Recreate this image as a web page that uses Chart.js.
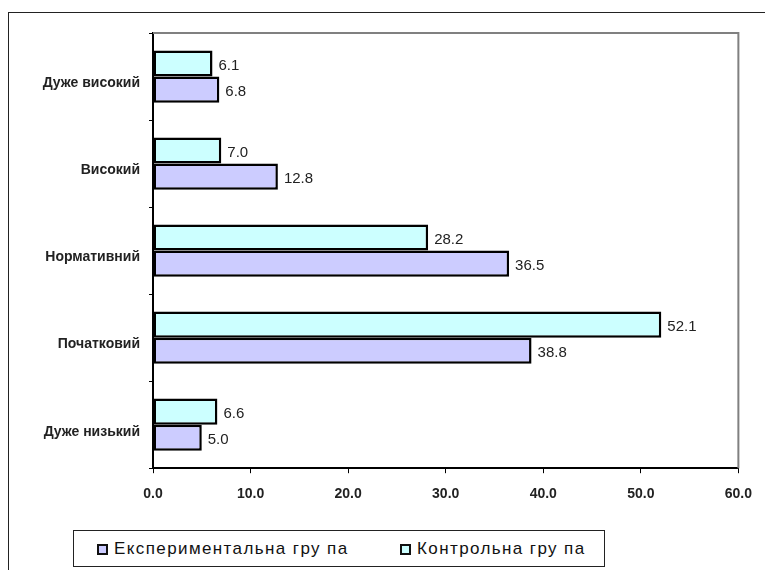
<!DOCTYPE html>
<html>
<head>
<meta charset="utf-8">
<script src="https://cdn.jsdelivr.net/npm/chart.js@4"></script>
<style>
  body { margin: 0; background: #fff; font-family: "Liberation Sans", Arial, sans-serif; }
  #wrap { position: relative; width: 765px; height: 570px; overflow: hidden; }
  #frame { position: absolute; left: 8px; top: 12px; width: 800px; height: 600px; border: 1.5px solid #222; box-sizing: border-box; }
  #chart { position: absolute; left: 0; top: 0; }
  #legend { position: absolute; left: 73px; top: 530px; width: 532px; height: 37px; border: 1.5px solid #222; box-sizing: border-box; background: #fff;
            font-size: 17px; letter-spacing: 1.4px; color: #111; }
  .item { display: flex; align-items: center; position: absolute; top: 8px; }
  .box { width: 7px; height: 7px; border: 2px solid #111; margin-right: 6px; }
</style>
</head>
<body>
<div id="wrap">
  <div id="frame"></div>
  <canvas id="chart" width="765" height="570"></canvas>
  <div id="legend">
    <div class="item" style="left:23px"><span class="box" style="background:#ccccff"></span>Експериментальна гру па</div>
    <div class="item" style="left:326px"><span class="box" style="background:#ccffff"></span>Контрольна гру па</div>
  </div>
</div>
<script>
// --- data ---
const categories = ["Дуже високий", "Високий", "Нормативний", "Початковий", "Дуже низький"];
const experimental = [6.8, 12.8, 36.5, 38.8, 5.0];
const control = [6.1, 7.0, 28.2, 52.1, 6.6];
const xTicks = [0, 10, 20, 30, 40, 50, 60];

// value labels right of each bar
const valueLabels = {
  id: "valueLabels",
  afterDatasetsDraw(chart) {
    const ctx = chart.ctx;
    ctx.save();
    ctx.font = "15px 'Liberation Sans', Arial, sans-serif";
    ctx.fillStyle = "#222";
    ctx.textBaseline = "middle";
    chart.data.datasets.forEach((ds, i) => {
      chart.getDatasetMeta(i).data.forEach((bar, j) => {
        ctx.fillText(ds.data[j].toFixed(1), bar.x + 6, bar.y + 2);
      });
    });
    ctx.restore();
  }
};

// grey top and right border of the plot area
const plotBorder = {
  id: "plotBorder",
  beforeDatasetsDraw(chart) {
    const a = chart.chartArea, ctx = chart.ctx;
    ctx.save();
    ctx.strokeStyle = "#808080";
    ctx.lineWidth = 2;
    ctx.beginPath();
    ctx.moveTo(a.left, a.top);
    ctx.lineTo(a.right, a.top);
    ctx.lineTo(a.right, a.bottom);
    ctx.stroke();
    ctx.restore();
  }
};

new Chart(document.getElementById("chart"), {
  type: "bar",
  data: {
    labels: categories,
    datasets: [
      { label: "Контрольна гру па", data: control, backgroundColor: "#ccffff", borderColor: "#000", borderWidth: 2.5, borderSkipped: false },
      { label: "Експериментальна гру па", data: experimental, backgroundColor: "#ccccff", borderColor: "#000", borderWidth: 2.5, borderSkipped: false }
    ]
  },
  options: {
    indexAxis: "y",
    responsive: false,
    animation: false,
    categoryPercentage: 0.6,
    barPercentage: 1.0,
    layout: { padding: { top: 33, right: 24, bottom: 54, left: 0 } },
    plugins: { legend: { display: false }, tooltip: { enabled: false } },
    scales: {
      x: {
        min: 0, max: 60,
        afterBuildTicks: ax => { ax.ticks = xTicks.map(v => ({ value: v })); },
        grid: { drawOnChartArea: false, color: "#000", tickLength: 5 },
        border: { color: "#000", width: 2 },
        ticks: { color: "#222", padding: 13, font: { family: "Liberation Sans", size: 14, weight: "bold" }, callback: v => Number(v).toFixed(1) }
      },
      y: {
        afterFit: ax => { ax.width = 153; },
        grid: { drawOnChartArea: false, color: "#000", tickLength: 4, offset: true },
        border: { color: "#000", width: 2 },
        ticks: { color: "#222", padding: 9, labelOffset: 7, font: { family: "Liberation Sans", size: 14, weight: "bold" } }
      }
    }
  },
  plugins: [valueLabels, plotBorder]
});
</script>
</body>
</html>
